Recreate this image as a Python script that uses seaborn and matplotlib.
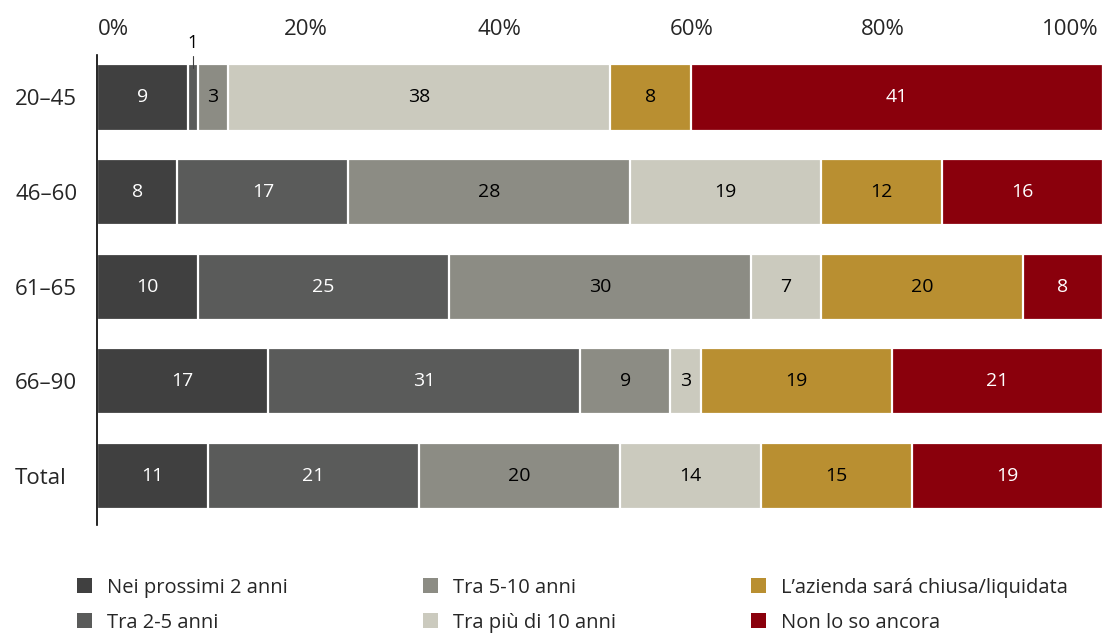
import numpy as np
import pandas as pd
import seaborn as sns
import matplotlib.pyplot as plt
from matplotlib.transforms import ScaledTranslation
from matplotlib.patches import Patch

# dati
groups = ["20–45", "46–60", "61–65", "66–90", "Total"]
series = [
    "Nei prossimi 2 anni",
    "Tra 2-5 anni",
    "Tra 5-10 anni",
    "Tra più di 10 anni",
    "L’azienda sará chiusa/liquidata",
    "Non lo so ancora",
]
prossimi_2 = [9, 8, 10, 17, 11]
tra_2_5 = [1, 17, 25, 31, 21]
tra_5_10 = [3, 28, 30, 9, 20]
oltre_10 = [38, 19, 7, 3, 14]
chiusa = [8, 12, 20, 19, 15]
non_so = [41, 16, 8, 21, 19]
x_ticks = [0, 20, 40, 60, 80, 100]
x_labels = ["0%", "20%", "40%", "60%", "80%", "100%"]

colors = ["#404040", "#5a5b5a", "#8c8c84", "#cbcabe", "#b98f31", "#8a000c"]
text_colors = ["white", "white", "black", "black", "black", "white"]

values = [prossimi_2, tra_2_5, tra_5_10, oltre_10, chiusa, non_so]
df = pd.DataFrame({s: v for s, v in zip(series, values)}, index=groups)
cum = df.cumsum(axis=1)

sns.set_theme(style="white")
plt.rcParams["font.family"] = ["Open Sans", "DejaVu Sans"]

fig = plt.figure(figsize=(11.11, 6.38), dpi=100)
ax = fig.add_axes([0.0873, 0.177, 0.9055, 0.737])

# barre cumulative, dalla più lunga alla più corta
for i in range(len(series) - 1, -1, -1):
    d = pd.DataFrame({"group": groups, "val": cum[series[i]].values})
    sns.barplot(data=d, x="val", y="group", orient="h", color=colors[i],
                saturation=1, width=0.7, edgecolor="white", linewidth=1.6,
                ax=ax)

# etichette
for r, g in enumerate(groups):
    left = 0
    for i, s in enumerate(series):
        v = df.loc[g, s]
        mid = left + v / 2
        if v >= 2:
            ax.text(mid, r, str(v), ha="center", va="center", fontsize=14,
                    color=text_colors[i])
        else:
            ax.plot([mid, mid], [r - 0.31, r - 0.44], color="#404040", lw=0.8,
                    clip_on=False)
            ax.text(mid, r - 0.48, str(v), ha="center", va="bottom",
                    fontsize=13, color="black")
        left += v

ax.set_xlim(0, 100)
ax.set_ylim(4.52, -0.45)
ax.set_xlabel("")
ax.set_ylabel("")
ax.xaxis.tick_top()
ax.set_xticks(x_ticks)
ax.set_xticklabels(x_labels, fontsize=16)
ax.tick_params(axis="x", length=0, pad=11)
offsets = [16, 8, 0, -9, -19, -33]
for lab, off in zip(ax.get_xticklabels(), offsets):
    lab.set_transform(lab.get_transform() + ScaledTranslation(off / 100, 0, fig.dpi_scale_trans))

ax.tick_params(axis="y", length=0, pad=59)
for lab in ax.get_yticklabels():
    lab.set_horizontalalignment("left")
    lab.set_fontsize(16)

for side in ["top", "right", "bottom"]:
    ax.spines[side].set_visible(False)
ax.spines["left"].set_color("black")
ax.spines["left"].set_linewidth(1.2)

handles = [Patch(facecolor=c, edgecolor="none") for c in colors]
fig.legend(handles, series, loc="lower left", bbox_to_anchor=(0.0528, -0.02),
           ncol=3, frameon=False, fontsize=14.5, handlelength=0.75,
           handleheight=0.75, handletextpad=0.75, columnspacing=6.7,
           labelspacing=0.75)

fig.savefig("out.png", dpi=100)
